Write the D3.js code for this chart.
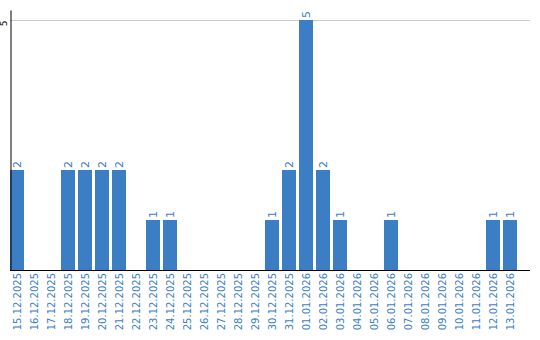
<!DOCTYPE html>
<html>
<head>
<meta charset="utf-8">
<script src="https://cdn.jsdelivr.net/npm/d3@7"></script>
<style>
  body { margin: 0; background: #fff; }
  svg text { font-family: "DejaVu Sans", Verdana, sans-serif; }
</style>
</head>
<body>
<div id="chart"></div>
<script>
//-- Data
var dates = ["15.12.2025", "16.12.2025", "17.12.2025", "18.12.2025", "19.12.2025",
  "20.12.2025", "21.12.2025", "22.12.2025", "23.12.2025", "24.12.2025",
  "25.12.2025", "26.12.2025", "27.12.2025", "28.12.2025", "29.12.2025",
  "30.12.2025", "31.12.2025", "01.01.2026", "02.01.2026", "03.01.2026",
  "04.01.2026", "05.01.2026", "06.01.2026", "07.01.2026", "08.01.2026",
  "09.01.2026", "10.01.2026", "11.01.2026", "12.01.2026", "13.01.2026"];
var counts = [2, 0, 0, 2, 2, 2, 2, 0, 1, 1,
  0, 0, 0, 0, 0, 1, 2, 5, 2, 1,
  0, 0, 1, 0, 0, 0, 0, 0, 1, 1];
var y_ticks = [5];

var tot_width = 540, tot_height = 340;
var blue = "#3b7ec4";

var svg = d3.select("#chart")
  .append("svg")
    .attr("width", tot_width)
    .attr("height", tot_height);

var data = dates.map(function (d, i) {return {date: d, value: counts[i]};});

//-- Scales
var x = d3.scaleBand()
  .domain(dates)
  .range([10, 517])
  .paddingInner(3/17)
  .paddingOuter(0);

var y = d3.scaleLinear()
  .domain([0, 5.2])
  .range([270, 10]);

//-- Gridline
svg.selectAll(".grid")
  .data(y_ticks)
  .enter()
  .append("line")
    .attr("class", "grid")
    .attr("x1", 10)
    .attr("x2", 530)
    .attr("y1", function (d) {return Math.round(y(d)) + 0.5;})
    .attr("y2", function (d) {return Math.round(y(d)) + 0.5;})
    .attr("stroke", "#cccccc")
    .attr("stroke-width", 1);

//-- Bars
svg.selectAll(".bar")
  .data(data.filter(function (d) {return d.value > 0;}))
  .enter()
  .append("rect")
    .attr("class", "bar")
    .attr("x", function (d) {return x(d.date);})
    .attr("y", function (d) {return y(d.value);})
    .attr("width", x.bandwidth())
    .attr("height", function (d) {return y(0) - y(d.value);})
    .attr("fill", blue);

//-- Value labels
svg.selectAll(".val")
  .data(data.filter(function (d) {return d.value > 0;}))
  .enter()
  .append("text")
    .attr("class", "val")
    .attr("transform", function (d) {
      return "translate(" + (x(d.date) + x.bandwidth()/2) + "," + (y(d.value) - 2) + ") rotate(-90)";
    })
    .attr("dominant-baseline", "central")
    .attr("text-anchor", "start")
    .style("font-size", "11px")
    .style("fill", blue)
    .text(function (d) {return d.value;});

//-- Y axis
var y_axis = d3.axisLeft(y)
  .tickValues(y_ticks)
  .tickFormat(d3.format("d"))
  .tickSize(0)
  .tickSizeOuter(0);

var gy = svg.append("g")
  .attr("transform", "translate(10.5,0)")
  .call(y_axis);
gy.select(".domain").attr("stroke", "#000");
gy.selectAll("text")
  .attr("x", null)
  .attr("dy", null)
  .attr("transform", "translate(-3.5,0) rotate(-90)")
  .attr("text-anchor", "end")
  .style("font-family", "\"DejaVu Sans\", Verdana, sans-serif")
  .style("font-size", "9px")
  .style("fill", "#000");

//-- X axis
var x_axis = d3.axisBottom(x)
  .tickSize(0)
  .tickSizeOuter(0);

var gx = svg.append("g")
  .attr("transform", "translate(0,270)")
  .call(x_axis);
gx.select(".domain").remove();
gx.selectAll("text")
  .attr("y", null)
  .attr("dy", null)
  .attr("transform", "translate(0,3) rotate(-90)")
  .attr("text-anchor", "end")
  .attr("dominant-baseline", "central")
  .style("font-family", "\"DejaVu Sans\", Verdana, sans-serif")
  .style("font-size", "10px")
  .style("fill", blue);

//-- Baseline
svg.append("line")
  .attr("x1", 10)
  .attr("x2", 530)
  .attr("y1", y(0) + 0.5)
  .attr("y2", y(0) + 0.5)
  .attr("stroke", "#000")
  .attr("stroke-width", 1);
</script>
</body>
</html>
